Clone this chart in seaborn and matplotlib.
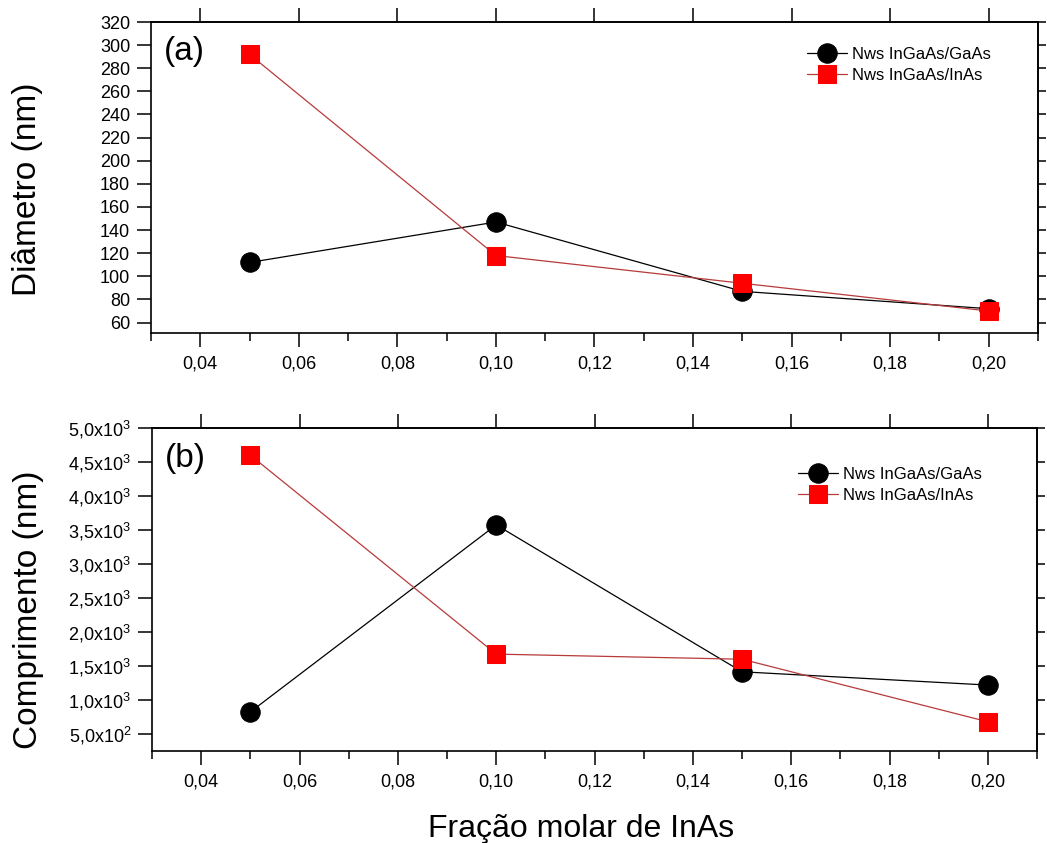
import matplotlib.pyplot as plt
import numpy as np
import pandas as pd
import seaborn as sns
from matplotlib.ticker import FixedLocator, MultipleLocator, FuncFormatter, NullFormatter

# data
fracao_inas = [0.05, 0.10, 0.15, 0.20]
diametro_gaas = [112, 147, 87, 72]
diametro_inas = [292, 118, 94, 70]
comprimento_gaas = [825, 3575, 1415, 1220]
comprimento_inas = [4600, 1675, 1600, 680]
series_labels = ["Nws InGaAs/GaAs", "Nws InGaAs/InAs"]

x_ticks = [0.04, 0.06, 0.08, 0.10, 0.12, 0.14, 0.16, 0.18, 0.20]
diam_ticks = list(range(60, 321, 20))
comp_ticks = [500, 1000, 1500, 2000, 2500, 3000, 3500, 4000, 4500, 5000]
comp_tick_labels = [r"5,0x10$^{2}$", r"1,0x10$^{3}$", r"1,5x10$^{3}$", r"2,0x10$^{3}$",
                    r"2,5x10$^{3}$", r"3,0x10$^{3}$", r"3,5x10$^{3}$", r"4,0x10$^{3}$",
                    r"4,5x10$^{3}$", r"5,0x10$^{3}$"]

sns.set_style("ticks")
plt.rcParams["font.family"] = ["Liberation Sans", "DejaVu Sans"]
plt.rcParams["mathtext.fontset"] = "custom"
plt.rcParams["mathtext.rm"] = "Liberation Sans"
plt.rcParams["mathtext.it"] = "Liberation Sans"
plt.rcParams["mathtext.default"] = "regular"
plt.rcParams["axes.linewidth"] = 1.2
for key in ["text.color", "axes.labelcolor", "axes.edgecolor", "xtick.color", "ytick.color"]:
    plt.rcParams[key] = "black"

BLACK = "#000000"
RED_MARK = "#ff0000"
RED_LINE = "#b83a3a"


def draw_panel(ax, y_gaas, y_inas, ylim, letter, legend_anchor):
    df = pd.DataFrame({"x": fracao_inas, "gaas": y_gaas, "inas": y_inas})
    sns.lineplot(data=df, x="x", y="gaas", ax=ax, color=BLACK, lw=0.9,
                 marker="o", markersize=14, markerfacecolor=BLACK,
                 markeredgecolor=BLACK, label=series_labels[0])
    sns.lineplot(data=df, x="x", y="inas", ax=ax, color=RED_LINE, lw=0.9,
                 marker="s", markersize=13, markerfacecolor=RED_MARK,
                 markeredgecolor=RED_MARK, label=series_labels[1])

    ax.set_xlim(0.03, 0.21)
    ax.set_ylim(*ylim)
    ax.xaxis.set_major_locator(FixedLocator(x_ticks))
    ax.xaxis.set_minor_locator(MultipleLocator(0.01))
    ax.xaxis.set_major_formatter(FuncFormatter(lambda v, _: f"{v:.2f}".replace(".", ",")))
    ax.tick_params(axis="both", which="major", direction="out", length=10,
                   width=1.1, labelsize=13, colors=BLACK)
    ax.tick_params(axis="x", which="minor", direction="out", length=5.5, width=1.1)
    ax.tick_params(axis="x", which="major", pad=6)
    ax.tick_params(axis="y", which="major", pad=5)
    ax.set_xlabel("")

    top = ax.secondary_xaxis("top")
    top.set_xticks(x_ticks)
    top.xaxis.set_major_formatter(NullFormatter())
    top.tick_params(direction="out", length=10, width=1.1)

    ax.text(0.015, 0.905, letter, transform=ax.transAxes, fontsize=24,
            ha="left", va="center", color=BLACK)

    leg = ax.legend(loc="upper left", bbox_to_anchor=legend_anchor, frameon=False,
                    fontsize=12, handlelength=2.4, handletextpad=0.3,
                    labelspacing=0.35, borderpad=0, borderaxespad=0)
    for t in leg.get_texts():
        t.set_color(BLACK)
    return ax


fig = plt.figure(figsize=(10.47, 8.43), dpi=100)
ax_a = fig.add_axes([0.1442, 0.6050, 0.8472, 0.3689])
ax_b = fig.add_axes([0.1452, 0.1091, 0.8453, 0.3832])

draw_panel(ax_a, diametro_gaas, diametro_inas, (51, 320), "(a)", (0.74, 0.92))
ax_a.yaxis.set_major_locator(FixedLocator(diam_ticks))
right_a = ax_a.secondary_yaxis("right")
right_a.set_yticks(diam_ticks)
right_a.yaxis.set_major_formatter(NullFormatter())
right_a.tick_params(direction="out", length=6, width=1.1)
ax_a.set_ylabel("Diâmetro (nm)", fontsize=24)
ax_a.yaxis.label.set_va("center")
ax_a.yaxis.set_label_coords(-0.139, 0.463)

draw_panel(ax_b, comprimento_gaas, comprimento_inas, (250, 5000), "(b)", (0.73, 0.88))
ax_b.set_yticks(comp_ticks, labels=comp_tick_labels)
right_b = ax_b.secondary_yaxis("right")
right_b.set_yticks(comp_ticks)
right_b.yaxis.set_major_formatter(NullFormatter())
right_b.tick_params(direction="out", length=6, width=1.1)
ax_b.set_ylabel("Comprimento (nm)", fontsize=24)
ax_b.yaxis.label.set_va("center")
ax_b.yaxis.set_label_coords(-0.14, 0.437)
ax_b.set_xlabel("Fração molar de InAs", fontsize=23)
ax_b.xaxis.label.set_va("center")
ax_b.xaxis.set_label_coords(0.485, -0.24)

fig.savefig("out.png", dpi=100)
plt.close(fig)
